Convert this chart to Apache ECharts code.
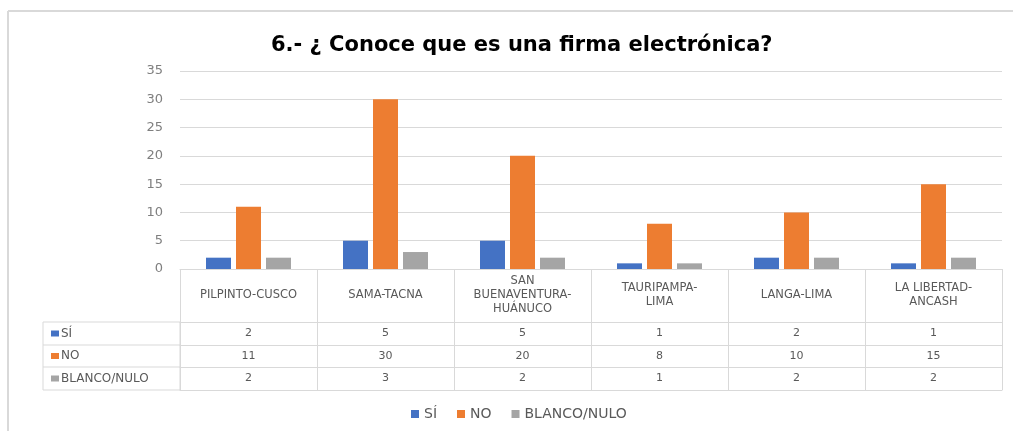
<!DOCTYPE html>
<html>
<head>
<meta charset="utf-8">
<script src="https://cdn.jsdelivr.net/npm/echarts@6/dist/echarts.min.js"></script>
<style>
  html, body { margin: 0; padding: 0; background: #fff; }
  #main { width: 1013px; height: 431px; }
</style>
</head>
<body>
<div id="main"></div>
<script>
// datos
var categorias = ['PILPINTO-CUSCO', 'SAMA-TACNA', 'SAN\nBUENAVENTURA-\nHUÁNUCO', 'TAURIPAMPA-\nLIMA', 'LANGA-LIMA', 'LA LIBERTAD-\nANCASH'];
var nombres = ['SÍ', 'NO', 'BLANCO/NULO'];
var si = [2, 5, 5, 1, 2, 1];
var no = [11, 30, 20, 8, 10, 15];
var blanco = [2, 3, 2, 1, 2, 2];
var yTicks = [0, 5, 10, 15, 20, 25, 30, 35];

var colores = ['#4472C4', '#ED7D31', '#A5A5A5'];
var gris = '#d9d9d9';
var texto = '#595959';
var fuente = 'DejaVu Sans';

// geometria de la tabla (debajo del eje)
var gLeft = 180, gRight = 11, gTop = 71, gBottom = 162;
var ejeY = 431 - gBottom;          // 269
var filaOff = [53, 76, 98, 121];   // lineas de la tabla
var colIzq = 43;

var filas = [si, no, blanco];

var xAxes = [{
    type: 'category',
    data: categorias,
    axisLine: { lineStyle: { color: gris, width: 1 } },
    axisTick: { show: true, length: filaOff[3], lineStyle: { color: gris } },
    axisLabel: {
        interval: 0, margin: 26, verticalAlign: 'middle',
        color: texto, fontSize: 11.5, lineHeight: 14, fontFamily: fuente
    }
}];
filas.forEach(function (vals, i) {
    xAxes.push({
        type: 'category',
        data: categorias,
        position: 'bottom',
        offset: filaOff[i],
        axisLine: { show: true, lineStyle: { color: gris } },
        axisTick: { show: false },
        axisLabel: {
            interval: 0, margin: 11, verticalAlign: 'middle',
            color: texto, fontSize: 11, fontFamily: fuente,
            formatter: function (v, idx) { return String(vals[idx]); }
        }
    });
});
xAxes.push({
    type: 'category',
    data: categorias,
    position: 'bottom',
    offset: filaOff[3],
    axisLine: { show: true, lineStyle: { color: gris } },
    axisTick: { show: false },
    axisLabel: { show: false }
});

// marco y columna izquierda de la tabla
var graficos = [
    { type: 'line', shape: { x1: 8, y1: 11, x2: 1013, y2: 11 }, style: { stroke: gris, lineWidth: 2 } },
    { type: 'line', shape: { x1: 8, y1: 11, x2: 8, y2: 431 }, style: { stroke: gris, lineWidth: 2 } },
    { type: 'rect', shape: { x: colIzq, y: ejeY + filaOff[0], width: gLeft - colIzq, height: filaOff[3] - filaOff[0] },
      style: { fill: 'none', stroke: gris, lineWidth: 1 } }
];
for (var k = 0; k < 3; k++) {
    var y0 = ejeY + filaOff[k], y1 = ejeY + filaOff[k + 1];
    if (k > 0) {
        graficos.push({ type: 'line', shape: { x1: colIzq, y1: y0, x2: gLeft, y2: y0 }, style: { stroke: gris, lineWidth: 1 } });
    }
    var yc = (y0 + y1) / 2;
    graficos.push({ type: 'rect', shape: { x: colIzq + 8, y: yc - 3, width: 8, height: 6 }, style: { fill: colores[k] } });
    graficos.push({ type: 'text', x: colIzq + 18, y: yc,
      style: { text: nombres[k], fill: texto, fontSize: 12, fontFamily: fuente, verticalAlign: 'middle' } });
}

var chart = echarts.init(document.getElementById('main'));
chart.setOption({
    animation: false,
    backgroundColor: '#fff',
    title: {
        text: '6.- ¿ Conoce que es una firma electrónica?',
        left: 266,
        top: 30,
        textStyle: { fontSize: 21, fontWeight: 'bold', color: '#000', fontFamily: fuente }
    },
    legend: {
        data: nombres,
        left: 406,
        top: 402,
        icon: 'rect',
        itemWidth: 8,
        itemHeight: 8,
        itemGap: 20,
        textStyle: { color: texto, fontSize: 14, fontFamily: fuente }
    },
    grid: { left: gLeft, right: gRight, top: gTop, bottom: gBottom, outerBoundsMode: 'none' },
    xAxis: xAxes,
    yAxis: {
        type: 'value',
        min: yTicks[0],
        max: yTicks[yTicks.length - 1],
        interval: 5,
        axisLine: { show: false },
        axisTick: { show: false },
        splitLine: { lineStyle: { color: gris, width: 1 } },
        axisLabel: { color: '#7f7f7f', fontSize: 13, margin: 17, fontFamily: fuente }
    },
    series: [
        { name: nombres[0], type: 'bar', data: si, itemStyle: { color: colores[0] }, barWidth: 25, barGap: '20%' },
        { name: nombres[1], type: 'bar', data: no, itemStyle: { color: colores[1] }, barWidth: 25, barGap: '20%' },
        { name: nombres[2], type: 'bar', data: blanco, itemStyle: { color: colores[2] }, barWidth: 25, barGap: '20%' }
    ],
    graphic: graficos
});
</script>
</body>
</html>
